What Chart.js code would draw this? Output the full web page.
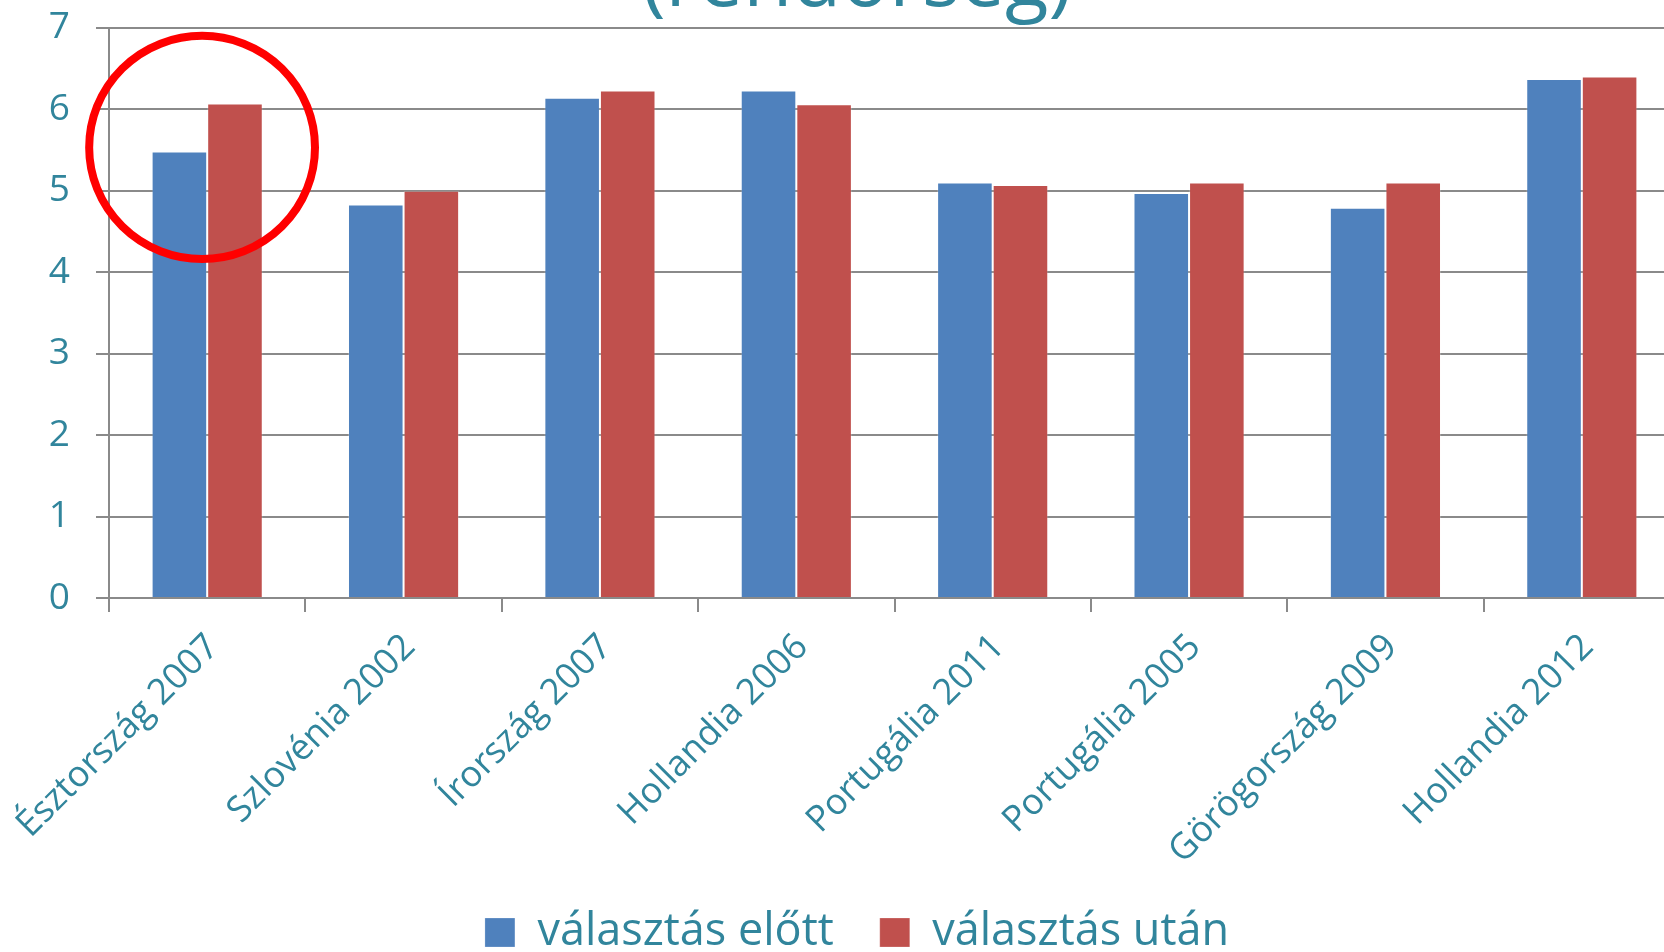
<!DOCTYPE html>
<html>
<head>
<meta charset="utf-8">
<script src="https://cdn.jsdelivr.net/npm/chart.js@4/dist/chart.umd.min.js"></script>
<style>
  html, body { margin: 0; padding: 0; background: #ffffff; overflow: hidden; width: 1664px; height: 952px; }
  #wrap { position: absolute; left: 0; top: -62px; width: 1712px; height: 1027px; }
</style>
</head>
<body>
<div id="wrap"><canvas id="c"></canvas></div>
<script>
const titleText = '(rendőrség)';
const categories = ['Észtország 2007', 'Szlovénia 2002', 'Írország 2007', 'Hollandia 2006', 'Portugália 2011', 'Portugália 2005', 'Görögország 2009', 'Hollandia 2012'];
const seriesNames = ['választás előtt', 'választás után'];
const beforeValues = [5.48, 4.83, 6.14, 6.23, 5.10, 4.97, 4.79, 6.37];
const afterValues = [6.07, 5.00, 6.23, 6.06, 5.07, 5.10, 5.10, 6.40];
const yMin = 0, yMax = 7, yStep = 1;
// highlight circle around first group: category index, value centre, radii (category widths / value units)
const highlight = { index: 0, dx: -0.026, value: 5.53, rx: 0.575, ry: 1.37 };

const TEAL = '#31859C';
const GRID = '#8a8a8a';
const FONT = "'Open Sans', 'Noto Sans', sans-serif";

const circlePlugin = {
  id: 'circle',
  afterDatasetsDraw(chart) {
    const xs = chart.scales.x, ys = chart.scales.y;
    const catW = xs.getPixelForValue(1) - xs.getPixelForValue(0);
    const cx = xs.getPixelForValue(highlight.index) + highlight.dx * catW;
    const cy = ys.getPixelForValue(highlight.value);
    const rx = highlight.rx * catW;
    const ry = Math.abs(ys.getPixelForValue(highlight.value + highlight.ry) - cy);
    const ctx = chart.ctx;
    ctx.save();
    ctx.beginPath();
    ctx.ellipse(cx, cy, rx, ry, 0, 0, Math.PI * 2);
    ctx.lineWidth = 8;
    ctx.strokeStyle = '#ff0000';
    ctx.stroke();
    ctx.restore();
  }
};

new Chart(document.getElementById('c'), {
  type: 'bar',
  data: {
    labels: categories,
    datasets: [
      { label: seriesNames[0], data: beforeValues, backgroundColor: '#4F81BD', borderColor: 'rgba(255,255,255,0.22)', borderWidth: 1 },
      { label: seriesNames[1], data: afterValues, backgroundColor: '#C0504D', borderColor: 'rgba(255,255,255,0.22)', borderWidth: 1 }
    ]
  },
  options: {
    responsive: true,
    maintainAspectRatio: false,
    animation: false,
    devicePixelRatio: 1,
    layout: { padding: { left: 34, right: 32, top: 0, bottom: 0 } },
    datasets: { bar: { categoryPercentage: 0.566, barPercentage: 1.0 } },
    plugins: {
      tooltip: { enabled: false },
      title: {
        display: true,
        text: titleText,
        color: TEAL,
        font: { family: FONT, size: 80, weight: 'normal', lineHeight: 1.121 },
        padding: { top: 0, bottom: 0 }
      },
      legend: {
        display: true,
        position: 'bottom',
        labels: {
          color: TEAL,
          font: { family: FONT, size: 45 },
          boxWidth: 30,
          boxHeight: 29,
          padding: 46
        }
      }
    },
    scales: {
      x: {
        afterFit(scale) { scale.height = 266; scale.paddingLeft = 0; scale.paddingRight = 0; },
        grid: { display: true, drawOnChartArea: false, drawTicks: true, tickLength: 14, offset: true, color: GRID, lineWidth: 2 },
        border: { display: true, color: GRID, width: 2 },
        ticks: { color: TEAL, font: { family: FONT, size: 36 }, minRotation: 45, maxRotation: 45, autoSkip: false, padding: 14, labelOffset: 6 }
      },
      y: {
        min: yMin, max: yMax,
        afterFit(scale) { scale.width = 75; },
        grid: { display: true, drawTicks: true, tickLength: 13, color: GRID, lineWidth: 2 },
        border: { display: true, color: GRID, width: 2 },
        ticks: { stepSize: yStep, color: TEAL, font: { family: FONT, size: 37 }, padding: 26 }
      }
    }
  },
  plugins: [circlePlugin]
});
</script>
</body>
</html>
